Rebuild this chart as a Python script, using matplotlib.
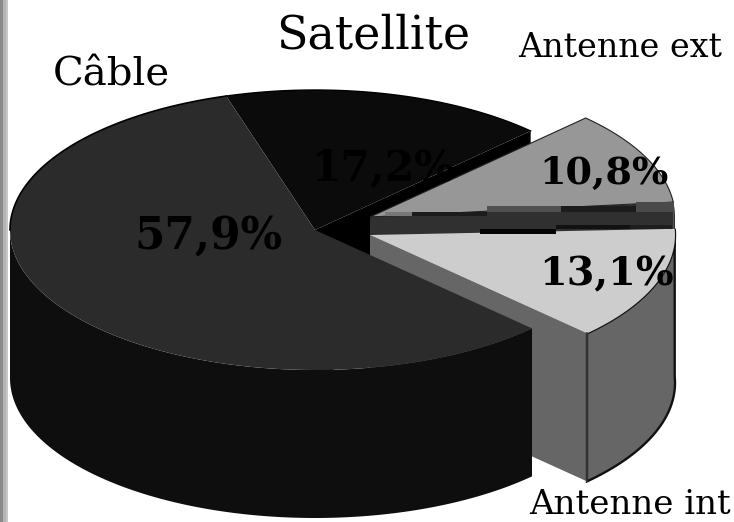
import numpy as np
import matplotlib
matplotlib.use("Agg")
import matplotlib.pyplot as plt
from matplotlib.patches import Polygon

# Share of households by reception mode, in percent
categories = ["Satellite", "Câble", "Antenne int", "Antenne ext"]
shares = [17.2, 57.9, 13.1, 10.8]
share_labels = ["17,2%", "57,9%", "13,1%", "10,8%"]

START_ANGLE = 45.0
RX, RY, DEPTH = 305, 140, 148
CENTRES = {"Satellite": (315, 230), "Câble": (315, 230),
           "Antenne int": (370, 235), "Antenne ext": (370, 217)}
TOP_COLOURS = {"Satellite": "#0b0b0b", "Câble": "#2b2b2b",
               "Antenne int": "#cdcdcd", "Antenne ext": "#979797"}
WALL_COLOURS = {"Satellite": "#0b0b0b", "Câble": "#0e0e0e",
                "Antenne int": "#666666", "Antenne ext": "#303030"}
FACE_COLOURS = {"Satellite": "#000000", "Câble": "#0e0e0e",
                "Antenne int": "#666666", "Antenne ext": "#303030"}

fig = plt.figure(figsize=(7.34, 5.22), dpi=100)
ax = fig.add_axes([0, 0, 1, 1])
ax.set_xlim(0, 734)
ax.set_ylim(522, 0)
ax.axis("off")

# Window-edge strip along the left side
for x0, x1, c in [(0, 3, "#8a8a8a"), (3, 6, "#b4b4b4"), (6, 8, "#c8c8c8")]:
    ax.axvspan(x0, x1, color=c, lw=0)

# Angular extent of every slice, walking round from the start angle.
# The unlabelled remainder sits just before the last slice.
remainder = 100 - sum(shares)
angles = {}
a = START_ANGLE
for name, share in zip(categories, shares):
    if name == categories[-1]:
        a += remainder * 3.6
    angles[name] = (a, a + share * 3.6)
    a += share * 3.6


def rim(name, lo, hi, drop=0.0):
    """Points on a slice's outer edge between two angles, optionally lowered."""
    cx, cy = CENTRES[name]
    t = np.radians(np.linspace(lo, hi, 120))
    return np.column_stack([cx + RX * np.cos(t), cy - RY * np.sin(t) + drop])


def radial_face(name, angle, colour, z):
    cx, cy = CENTRES[name]
    end = rim(name, angle, angle)[0]
    pts = [(cx, cy), end, (end[0], end[1] + DEPTH), (cx, cy + DEPTH)]
    ax.add_patch(Polygon(pts, closed=True, fc=colour, ec="none", zorder=z))


def outer_wall(name, lo, hi, colour, z, edge="none", lw=0):
    top = rim(name, lo, hi)
    bottom = rim(name, lo, hi, DEPTH)[::-1]
    ax.add_patch(Polygon(np.vstack([top, bottom]), closed=True, fc=colour,
                         ec=edge, lw=lw, zorder=z))


def top_face(name, z, edge="none", lw=0):
    lo, hi = angles[name]
    pts = np.vstack([[CENTRES[name]], rim(name, lo, hi)])
    ax.add_patch(Polygon(pts, closed=True, fc=TOP_COLOURS[name], ec=edge,
                         lw=lw, zorder=z))


# Back slice first
sat_lo, sat_hi = angles["Satellite"]
radial_face("Satellite", sat_lo, FACE_COLOURS["Satellite"], 1)
top_face("Satellite", 2)

# Detached slices: upper one, then lower one
ext_lo, ext_hi = angles["Antenne ext"]
radial_face("Antenne ext", ext_lo, FACE_COLOURS["Antenne ext"], 3)
outer_wall("Antenne ext", ext_lo - 6, ext_lo, WALL_COLOURS["Antenne ext"], 3)
top_face("Antenne ext", 4, edge="#222222", lw=0.8)

# Shading stripes across the side face of the upper slice
for x0, x1, y0, y1, c in [(385, 412, 212, 216, "#777777"), (412, 487, 212, 216, "#1c1c1c"),
                          (487, 561, 206, 212, "#505050"), (561, 636, 206, 212, "#1c1c1c"),
                          (636, 674, 202, 212, "#4a4a4a")]:
    ax.fill_between([x0, x1], y0, y1, color=c, lw=0, zorder=5)

int_lo, int_hi = angles["Antenne int"]
radial_face("Antenne int", int_lo, FACE_COLOURS["Antenne int"], 6)
outer_wall("Antenne int", int_lo, int_hi, WALL_COLOURS["Antenne int"], 6,
           edge="#111111", lw=1.7)
top_face("Antenne int", 7)
tip = rim("Antenne int", int_lo, int_lo)[0]
ax.plot([tip[0], tip[0]], [tip[1], tip[1] + DEPTH], color="#3a3a3a", lw=1.2, zorder=7)

# Dark line where the lower slice meets the side face above it
for x0, x1, y0, y1, c in [(480, 556, 229, 234, "#050505"), (556, 630, 225, 229, "#111111"),
                          (630, 672, 225, 229, "#1e1e1e")]:
    ax.fill_between([x0, x1], y0, y1, color=c, lw=0, zorder=8)

# Large front slice on top of everything
cab_lo, cab_hi = angles["Câble"]
outer_wall("Câble", 180, cab_hi, WALL_COLOURS["Câble"], 9)
top_face("Câble", 10)
ax.plot(*rim("Câble", cab_lo, 180).T, color="#000000", lw=1.2, zorder=11)
ax.plot(*rim("Satellite", sat_lo, sat_hi).T, color="#000000", lw=1.0, zorder=3)

# Category names and percentage labels
FONT = "DejaVu Serif"
name_style = {"Satellite": (373, 36, 33), "Câble": (111, 75, 29),
              "Antenne ext": (620, 48, 24), "Antenne int": (630, 505, 24.5)}
for name, (x, y, size) in name_style.items():
    ax.text(x, y, name, ha="center", va="center", family=FONT, fontsize=size,
            color="black", zorder=20)

value_style = {"Satellite": (384, 168, 30.5), "Câble": (208, 236, 31.5),
               "Antenne int": (606, 274, 28.5), "Antenne ext": (604, 173, 27.5)}
for name, label in zip(categories, share_labels):
    x, y, size = value_style[name]
    ax.text(x, y, label, ha="center", va="center", family=FONT, fontsize=size,
            fontweight="bold", color="black", zorder=20)

fig.savefig("out.png", dpi=100)
